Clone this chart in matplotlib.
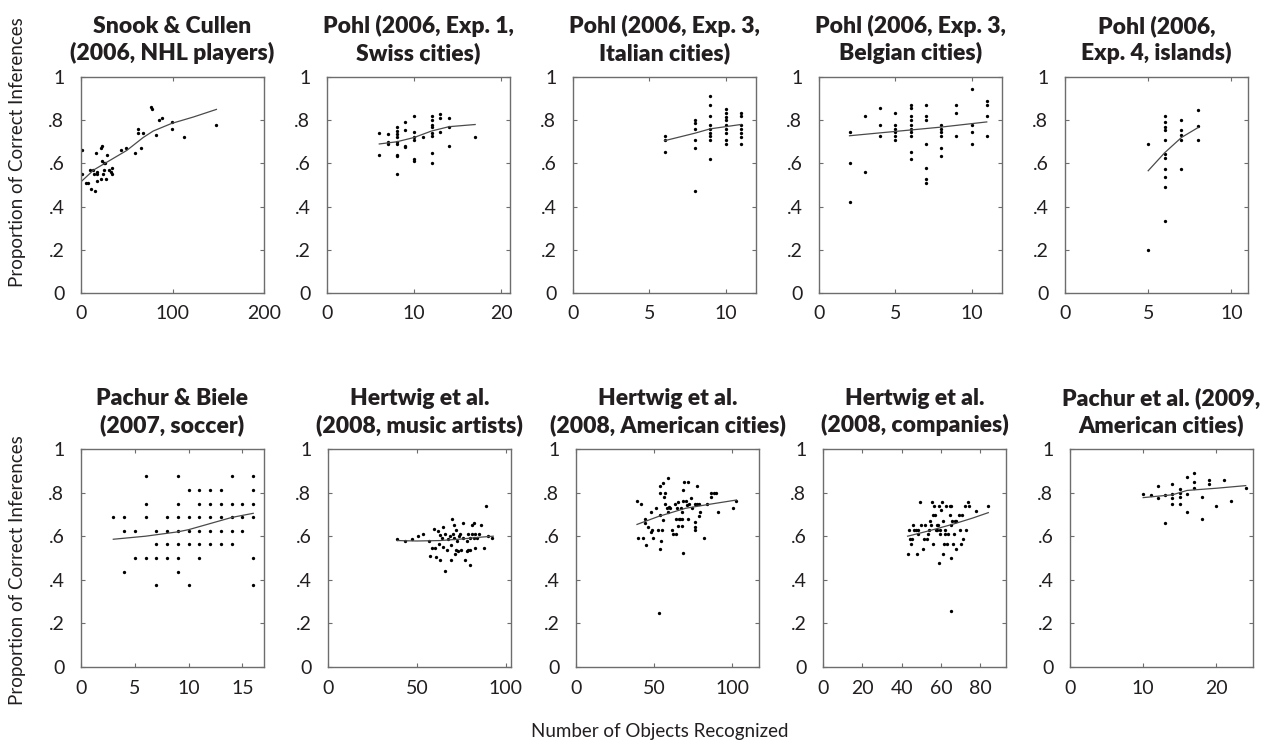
import matplotlib
matplotlib.use("Agg")
import matplotlib.pyplot as plt

plt.rcParams['font.family'] = ['Lato', 'DejaVu Sans']

titles = [
    "Snook & Cullen\n(2006, NHL players)",
    "Pohl (2006, Exp. 1,\nSwiss cities)",
    "Pohl (2006, Exp. 3,\nItalian cities)",
    "Pohl (2006, Exp. 3,\nBelgian cities)",
    "Pohl (2006,\nExp. 4, islands)",
    "Pachur & Biele\n(2007, soccer)",
    "Hertwig et al.\n(2008, music artists)",
    "Hertwig et al.\n(2008, American cities)",
    "Hertwig et al.\n(2008, companies)",
    "Pachur et al. (2009,\nAmerican cities)",
]

# Panel 1: Snook & Cullen
p1_x = [1, 1, 5, 8, 10, 11, 13, 14, 15, 16, 17, 18, 18, 22, 22, 23, 23, 24, 25, 26, 25, 27, 28, 31, 33, 34, 34,
        44, 49, 59, 62, 62, 66, 68, 77, 78, 82, 85, 88, 99, 99, 113, 148]
p1_y = [.66, .55, .51, .51, .57, .48, .57, .55, .47, .65, .56, .52, .55, .53, .67, .68, .61, .55, .60, .60, .57,
        .53, .64, .57, .56, .55, .58, .66, .67, .65, .76, .74, .67, .74, .86, .85, .73, .80, .81, .79, .76, .72, .78]
p1_fit_x = [0, 14, 32, 50, 68, 79, 99, 123, 148]
p1_fit_y = [.515, .57, .615, .66, .72, .75, .785, .815, .85]

# Panel 2: Pohl Exp. 1
p2_x = [6, 6, 7, 7, 7, 8, 8, 8, 8, 8, 8, 8, 8, 8, 9, 9, 9, 9, 10, 10, 10, 10, 10, 10, 11,
        12, 12, 12, 12, 12, 12, 12, 12, 13, 13, 13, 14, 14, 14, 17]
p2_y = [.74, .64, .735, .70, .69, .77, .75, .735, .72, .70, .69, .64, .635, .55, .79, .755, .68, .675,
        .82, .745, .72, .71, .62, .61, .72, .82, .80, .78, .77, .74, .725, .65, .60, .83, .81, .745,
        .81, .77, .68, .72]
p2_fit_x = [6, 8, 10, 12, 14, 17]
p2_fit_y = [.69, .70, .72, .75, .77, .78]

# Panel 3: Pohl Exp. 3 Italian
p3_x = [6, 6, 6, 8, 8, 8, 8, 8, 8, 9, 9, 9, 9, 9, 9, 9, 9, 9,
        10, 10, 10, 10, 10, 10, 10, 10, 10, 11, 11, 11, 11, 11, 11, 11]
p3_y = [.726, .708, .654, .80, .785, .76, .71, .67, .47, .91, .87, .82, .78, .76, .74, .726, .71, .62,
        .85, .835, .815, .80, .78, .76, .74, .71, .69, .835, .82, .78, .76, .74, .72, .69]
p3_fit_x = [6, 8, 9, 10, 11]
p3_fit_y = [.705, .74, .76, .77, .78]

# Panel 4: Pohl Exp. 3 Belgian
p4_x = [2, 2, 2, 3, 3, 4, 4, 4, 5, 5, 5, 5, 5, 5,
        6, 6, 6, 6, 6, 6, 6, 6, 6, 6, 7, 7, 7, 7, 7, 7, 7,
        8, 8, 8, 8, 8, 8, 9, 9, 9, 10, 10, 10, 10, 11, 11, 11, 11]
p4_y = [.745, .60, .42, .82, .56, .855, .78, .725, .835, .78, .76, .745, .725, .71,
        .87, .855, .82, .80, .78, .76, .745, .725, .655, .62, .87, .82, .80, .69, .58, .53, .51,
        .78, .76, .745, .725, .67, .635, .87, .835, .725, .945, .78, .745, .69, .89, .87, .82, .725]
p4_fit_x = [2, 5, 8, 11]
p4_fit_y = [.728, .748, .768, .792]

# Panel 5: Pohl Exp. 4 islands
p5_x = [5, 5, 6, 6, 6, 6, 6, 6, 6, 6, 6, 6, 6, 7, 7, 7, 7, 7, 8, 8, 8]
p5_y = [.69, .20, .82, .79, .77, .755, .71, .645, .625, .575, .535, .49, .335, .80, .755, .73, .71, .575,
        .845, .775, .71]
p5_fit_x = [5, 6, 7, 8]
p5_fit_y = [.566, .65, .72, .766]

# Panel 6: Pachur & Biele soccer
p6_x = [6, 9, 14, 16,
        10, 11, 12, 13, 16,
        6, 9, 11, 12, 13, 14, 15, 16,
        3, 4, 6, 8, 9, 10, 11, 12, 13, 14, 15, 16,
        4, 5, 7, 8, 9, 10, 11, 12, 13, 14, 15,
        7, 8, 9, 10, 11, 12, 13, 14,
        5, 6, 7, 8, 9, 11, 16,
        4, 9,
        7, 10, 16]
p6_y = [.875] * 4 + [.8125] * 5 + [.75] * 8 + [.6875] * 12 + [.625] * 11 + [.5625] * 8 + [.5] * 7 + \
       [.4375] * 2 + [.375] * 3
p6_fit_x = [3, 6, 9, 10, 12, 14, 16]
p6_fit_y = [.586, .60, .62, .63, .658, .686, .705]

# Panel 7: Hertwig music artists
p7_x = [39, 43.5, 47.5, 50.7, 53.6, 57, 57.6, 59.4, 58.5, 60, 61, 62, 62.7, 63, 63.3, 64, 65, 65, 66, 66,
        67, 67.7, 68.5, 69, 69.5, 70, 70.4, 70.8, 71, 71.5, 72, 72, 72.5, 73, 73.5, 74.3, 75, 76, 76, 77,
        78, 78, 79, 79, 80, 80, 80, 81, 81, 82, 82, 83, 83, 84, 85, 86, 88, 89, 90, 92.5]
p7_y = [.588, .58, .588, .60, .608, .58, .51, .632, .548, .548, .505, .625, .566, .49, .605, .59, .64, .55,
        .44, .61, .535, .588, .60, .49, .56, .68, .61, .65, .59, .517, .538, .627, .578, .53, .60, .61,
        .535, .66, .59, .49, .58, .53, .61, .535, .47, .59, .535, .65, .61, .66, .59, .61, .545, .59, .61,
        .65, .548, .74, .60, .59]
p7_fit_x = [39, 50, 63, 75, 85, 93]
p7_fit_y = [.58, .578, .58, .587, .595, .60]

# Panel 8: Hertwig American cities
p8_x = [39, 41.7, 39.5, 42.8, 43.8, 43.8, 44.9, 46, 47.7, 47.7, 48.8, 49.5, 51.4, 52.5, 53, 53.5, 53.5, 53.8,
        54, 54.6, 55, 55.7, 55.7, 56.4, 56.8, 57, 58, 58.5, 58.5, 59.4, 60, 61.6, 62, 63.3, 63.8, 63.8,
        64.4, 65, 65.4, 66, 66.5, 67.2, 67.6, 67.6, 68, 68.7, 68.7, 68.7, 69.3, 70.4, 71, 71.5, 71.5,
        72.5, 73.6, 74, 75.8, 75.8, 75.8, 76.2, 77.3, 77.3, 78.4, 78.8, 79.5, 81.6, 83.8, 86, 86, 88,
        89.6, 91, 100.4, 102.6]
p8_y = [.763, .746, .592, .592, .678, .662, .558, .643, .709, .617, .628, .592, .731, .628, .25, .828, .697,
        .54, .80, .577, .628, .846, .674, .78, .746, .797, .731, .866, .712, .733, .731, .628, .612, .746,
        .612, .678, .731, .646, .758, .677, .677, .728, .646, .677, .709, .812, .523, .763, .848, .763,
        .743, .848, .677, .746, .777, .728, .666, .643, .628, .746, .832, .746, .692, .746, .709, .592,
        .746, .782, .797, .797, .797, .709, .728, .763]
p8_fit_x = [39, 52.5, 70, 85, 102.6]
p8_fit_y = [.654, .69, .728, .746, .766]

# Panel 9: Hertwig companies
p9_x = [43, 43.8, 44.2, 44.7, 45, 45.9, 46.2, 47.2, 48, 48.1, 48.4, 49.2, 50, 50.6, 51.3, 51.8, 52.6, 53.4,
        54, 54.3, 55, 55.6, 56, 56, 56.3, 56.8, 57.3, 57.7, 58, 58.5, 59, 59, 59.4, 59.7, 60.2, 60.7, 61,
        61, 61.4, 61.9, 62.2, 62.7, 63, 63.6, 64.4, 64.7, 65, 65, 65.3, 65.3, 65.8, 66.1, 66.4, 66.9,
        67.8, 67.8, 69.1, 69.5, 70.3, 70.8, 71.2, 72, 72.8, 73.7, 74.2, 78, 83.8]
p9_y = [.52, .63, .586, .563, .586, .65, .63, .63, .52, .63, .61, .758, .65, .54, .586, .65, .586, .61,
        .63, .672, .65, .758, .697, .563, .74, .697, .63, .65, .63, .65, .477, .74, .63, .61, .72, .758,
        .52, .672, .563, .61, .63, .74, .563, .61, .697, .74, .258, .50, .74, .65, .672, .563, .61, .672,
        .543, .672, .697, .63, .563, .697, .586, .74, .63, .758, .74, .717, .74]
p9_fit_x = [43, 54, 66, 76, 84]
p9_fit_y = [.60, .625, .655, .683, .708]

# Panel 10: Pachur et al. 2009
p10_x = [10, 11, 12, 12, 13, 13, 14, 14, 14, 14, 15, 15, 15, 15, 16, 16, 16, 17, 17, 17, 18, 18, 19, 19,
         20, 21, 22, 24]
p10_y = [.794, .79, .83, .774, .79, .66, .84, .794, .774, .75, .817, .797, .78, .75, .87, .794, .71, .89,
         .85, .82, .78, .68, .86, .84, .74, .86, .76, .82]
p10_fit_x = [10, 14, 16, 20, 24]
p10_fit_y = [.777, .79, .81, .82, .832]

xs = [p1_x, p2_x, p3_x, p4_x, p5_x, p6_x, p7_x, p8_x, p9_x, p10_x]
ys = [p1_y, p2_y, p3_y, p4_y, p5_y, p6_y, p7_y, p8_y, p9_y, p10_y]
fxs = [p1_fit_x, p2_fit_x, p3_fit_x, p4_fit_x, p5_fit_x, p6_fit_x, p7_fit_x, p8_fit_x, p9_fit_x, p10_fit_x]
fys = [p1_fit_y, p2_fit_y, p3_fit_y, p4_fit_y, p5_fit_y, p6_fit_y, p7_fit_y, p8_fit_y, p9_fit_y, p10_fit_y]

xlims = [200, 21, 12, 12, 11, 17, 103, 117, 93, 25]
xticks = [[0, 100, 200], [0, 10, 20], [0, 5, 10], [0, 5, 10], [0, 5, 10],
          [0, 5, 10, 15], [0, 50, 100], [0, 50, 100], [0, 20, 40, 60, 80], [0, 10, 20]]
yticks = [0, .2, .4, .6, .8, 1]
ytick_labels = ["0", ".2", ".4", ".6", ".8", "1"]

W, H = 1261, 746
fig = plt.figure(figsize=(W / 100, H / 100), dpi=100)

lefts_top = [81, 327, 573, 819, 1065]
lefts_bot = [81, 328, 576, 823, 1070]
aw = 183
rows = [(77, 293), (449, 667)]

text_col = "#231f20"
axis_col = "#6d6d6d"

for i in range(10):
    r = i // 5
    c = i % 5
    left = (lefts_top if r == 0 else lefts_bot)[c]
    top, bot = rows[r]
    ax = fig.add_axes([left / W, 1 - bot / H, aw / W, (bot - top) / H])
    ax.plot(xs[i], ys[i], 'o', ms=2.4, color='black', mew=0)
    ax.plot(fxs[i], fys[i], '-', color='#4a4a4a', lw=0.9)
    ax.set_xlim(0, xlims[i])
    ax.set_ylim(0, 1)
    ax.set_xticks(xticks[i])
    ax.set_xticklabels([str(t) for t in xticks[i]])
    ax.set_yticks(yticks)
    ax.set_yticklabels(ytick_labels)
    ax.tick_params(direction='in', top=True, right=True, length=3, width=0.8, color=axis_col,
                   labelsize=14, labelcolor=text_col)
    ax.tick_params(axis='x', pad=9)
    ax.tick_params(axis='y', pad=12)
    for s in ax.spines.values():
        s.set_color(axis_col)
        s.set_linewidth(1.0)
    ax.set_title(titles[i], fontsize=16.5, fontweight='heavy', color=text_col, linespacing=1.28, pad=12)

fig.text(18 / W, 1 - 152 / H, "Proportion of Correct Inferences", rotation=90, ha='center', va='center',
         fontsize=13.5, color=text_col)
fig.text(18 / W, 1 - 570 / H, "Proportion of Correct Inferences", rotation=90, ha='center', va='center',
         fontsize=13.5, color=text_col)
fig.text(660 / W, 1 - 731 / H, "Number of Objects Recognized", ha='center', va='center',
         fontsize=13.5, color=text_col)

fig.savefig("out.png", dpi=100)
